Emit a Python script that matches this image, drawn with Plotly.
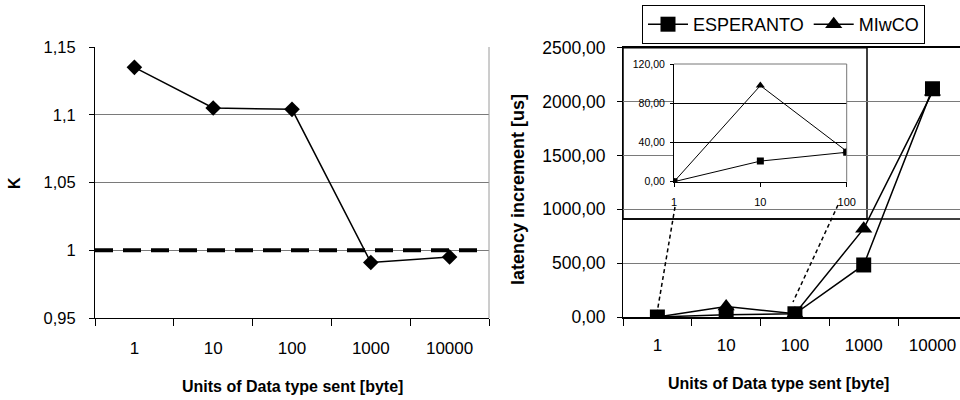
import plotly.graph_objects as go

categories = ["1", "10", "100", "1000", "10000"]
k_values = [1.135, 1.105, 1.104, 0.991, 0.995]
esperanto = [0, 21, 30, 483, 2120]
miwco = [0, 98, 31, 820, 2090]
inset_x = [1, 10, 100]

W, H = 960, 400
FONT = "Liberation Sans"

fig = go.Figure()

# Left chart
fig.add_trace(go.Scatter(x=categories, y=k_values, mode="lines+markers",
                         line=dict(color="black", width=1.5),
                         marker=dict(symbol="diamond", size=12, color="black"),
                         showlegend=False, xaxis="x", yaxis="y"))

# Right main chart
fig.add_trace(go.Scatter(x=categories, y=esperanto, mode="lines+markers", name="ESPERANTO",
                         line=dict(color="black", width=1.5),
                         marker=dict(symbol="square", size=15, color="black"),
                         xaxis="x2", yaxis="y2"))
fig.add_trace(go.Scatter(x=categories, y=miwco, mode="lines+markers", name="MIwCO",
                         line=dict(color="black", width=1.5),
                         marker=dict(symbol="triangle-up", size=15, color="black"),
                         xaxis="x2", yaxis="y2"))

# Inset
fig.add_trace(go.Scatter(x=inset_x, y=miwco[:3], mode="lines+markers",
                         line=dict(color="black", width=1),
                         marker=dict(symbol="triangle-up", size=8, color="black"),
                         showlegend=False, xaxis="x3", yaxis="y3"))
fig.add_trace(go.Scatter(x=inset_x, y=esperanto[:3], mode="lines+markers",
                         line=dict(color="black", width=1),
                         marker=dict(symbol="square", size=7, color="black"),
                         showlegend=False, xaxis="x3", yaxis="y3"))

xtick_font = dict(family=FONT, size=17, color="black")
ytick_font = dict(family=FONT, size=16.5, color="black")

fig.update_layout(
    width=W, height=H,
    margin=dict(l=0, r=0, t=0, b=0, autoexpand=False),
    paper_bgcolor="white", plot_bgcolor="white",
    separators=", ",
    font=dict(family=FONT, color="black"),
    xaxis=dict(domain=[95 / W, 489 / W], type="category", range=[-0.5, 4.5],
               tickson="boundaries", ticks="outside", ticklen=7, tickcolor="black",
               showline=True, linecolor="black", linewidth=1, showgrid=False,
               tickfont=xtick_font, ticklabelstandoff=15, anchor="y", automargin=False),
    yaxis=dict(domain=[82 / H, 353 / H], range=[0.95, 1.15], dtick=0.05,
               ticks="outside", ticklen=5, tickcolor="black",
               showline=True, linecolor="black", linewidth=1,
               showgrid=True, gridcolor="#7a7a7a", gridwidth=1, zeroline=False,
               tickfont=ytick_font, ticklabelstandoff=10, anchor="x", automargin=False),
    xaxis2=dict(domain=[623 / W, 1.0], type="category", range=[-0.5, 4.4],
                tickson="boundaries", ticks="outside", ticklen=7, tickcolor="black",
                showline=True, linecolor="black", linewidth=1.5, mirror=True,
                showgrid=False, tickfont=xtick_font, ticklabelstandoff=12, anchor="y2",
                automargin=False),
    yaxis2=dict(domain=[83 / H, 352.3 / H], range=[0, 2500], dtick=500, tickformat=".2f",
                ticks="outside", ticklen=5, tickcolor="black",
                showline=True, linecolor="black", linewidth=1,
                showgrid=True, gridcolor="#7a7a7a", gridwidth=1, zeroline=False,
                tickfont=dict(family=FONT, size=17.5, color="black"),
                ticklabelstandoff=8, anchor="x2", automargin=False),
    xaxis3=dict(domain=[674 / W, 846.7 / W], type="log", range=[0, 2],
                tickvals=inset_x, ticktext=["1", "10", "100"],
                ticks="outside", ticklen=4, tickcolor="black",
                showline=True, linecolor="black", linewidth=1, showgrid=False,
                tickfont=dict(family=FONT, size=11, color="black"), anchor="y3",
                ticklabelstandoff=6, automargin=False),
    yaxis3=dict(domain=[(H - 181.7) / H, (H - 64) / H], range=[0, 120], dtick=40,
                tickformat=".2f", ticks="outside", ticklen=3, tickcolor="black",
                showline=True, linecolor="black", linewidth=1,
                showgrid=True, gridcolor="black", gridwidth=1, zeroline=False,
                tickfont=dict(family=FONT, size=10.5, color="black"), anchor="x3",
                ticklabelstandoff=3, automargin=False),
    legend=dict(x=642 / W, y=1 - 5 / H, xanchor="left", yanchor="top",
                orientation="h", bordercolor="black", borderwidth=1,
                bgcolor="white",
                font=dict(family=FONT, size=18, color="black"),
                itemwidth=40),
)

shapes = [
    # reference line at K=1
    dict(type="line", xref="x domain", yref="y", x0=0, x1=0.987, y0=1, y1=1,
         line=dict(color="black", width=4, dash="18px,10px"), layer="above"),
    # right border of left plot
    dict(type="line", xref="x domain", yref="y domain", x0=1, x1=1, y0=0, y1=1,
         line=dict(color="#9a9a9a", width=1)),
    # inset frame (white, hides main gridlines)
    dict(type="rect", xref="x2 domain", yref="y2 domain", x0=0, x1=(867 - 623) / 337,
         y0=(317 - 219) / 269.3, y1=1, fillcolor="white",
         line=dict(color="black", width=1.5), layer="below"),
    dict(type="line", xref="x2 domain", yref="y2 domain", x0=0, x1=1,
         y0=(317 - 219) / 269.3, y1=(317 - 219) / 269.3,
         line=dict(color="black", width=1.5), layer="above"),
    # inset plot box top/right
    dict(type="line", xref="x3 domain", yref="y3 domain", x0=0, x1=1, y0=1, y1=1,
         line=dict(color="#777777", width=1)),
    dict(type="line", xref="x3 domain", yref="y3 domain", x0=1, x1=1, y0=0, y1=1,
         line=dict(color="#777777", width=1)),
    # dashed connectors
    dict(type="line", xref="paper", yref="paper", x0=675 / W, y0=1 - 207 / H,
         x1=657 / W, y1=1 - 313 / H, line=dict(color="black", width=1.5, dash="4px,3px")),
    dict(type="line", xref="paper", yref="paper", x0=838 / W, y0=1 - 205 / H,
         x1=793 / W, y1=1 - 302 / H, line=dict(color="black", width=1.5, dash="4px,3px")),
]
fig.update_layout(shapes=shapes)

title_font = dict(family=FONT, size=16, color="black")
common = dict(xref="paper", yref="paper", showarrow=False, xanchor="center", yanchor="middle")
fig.add_annotation(text="<b>Units of Data type sent [byte]</b>",
                   x=292 / W, y=1 - 386 / H, font=title_font, **common)
fig.add_annotation(text="<b>Units of Data type sent [byte]</b>",
                   x=778 / W, y=1 - 383 / H, font=title_font, **common)
fig.add_annotation(text="<b>K</b>", x=14 / W, y=1 - 183 / H, textangle=-90,
                   font=dict(family=FONT, size=16, color="black"), **common)
fig.add_annotation(text="<b>latency increment [us]</b>", x=518 / W, y=1 - 190 / H,
                   textangle=-90, font=dict(family=FONT, size=18, color="black"), **common)

fig.write_html("out.html", config={"displayModeBar": False},
               post_script="document.body.style.margin='0px';document.body.style.padding='0px';")
